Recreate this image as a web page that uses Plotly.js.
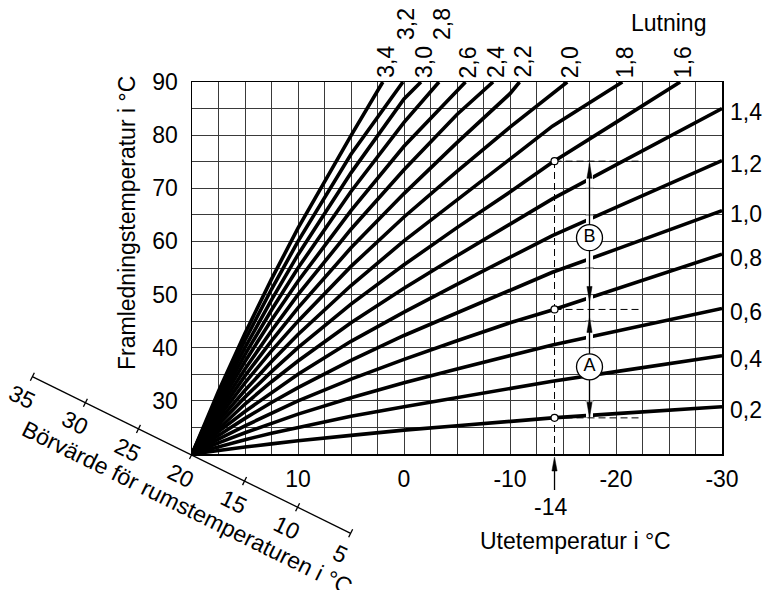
<!DOCTYPE html>
<html><head><meta charset="utf-8">
<script src="https://cdn.plot.ly/plotly-3.0.1.min.js"></script>
<style>html,body{margin:0;padding:0;background:#fff;}#chart{width:764px;height:590px;}</style>
</head><body><div id="chart"></div>
<script>
// ---------- data ----------
const outdoorTemp = [20, 17.5, 15, 12.5, 10, 5, 0, -5, -10, -14, -20, -25, -30];
const slopeLabels = ['0,2','0,4','0,6','0,8','1,0','1,2','1,4','1,6','1,8','2,0','2,2','2,4','2,6','2,8','3,0','3,2','3,4'];
const flow02 = [20, 20.7, 21.3, 21.9, 22.5, 23.5, 24.5, 25.3, 26.2, 26.8, 27.6, 28.2, 28.9];
const flow04 = [20, 21.4, 22.7, 23.9, 25.0, 27.1, 28.9, 30.6, 32.3, 33.7, 35.5, 37.0, 38.5];
const flow06 = [20, 22.1, 24.0, 25.8, 27.5, 30.6, 33.4, 36.0, 38.5, 40.5, 43.1, 45.3, 47.4];
const flow08 = [20, 22.8, 25.3, 27.7, 30.0, 34.1, 37.8, 41.3, 44.7, 47.1, 51.0, 54.3, 57.6];
const flow10 = [20, 23.5, 26.7, 29.7, 32.5, 37.6, 42.3, 46.6, 50.8, 54.2, 58.5, 62.2, 65.8];
const flow12 = [20, 24.2, 28.0, 31.6, 35.0, 41.2, 46.7, 51.9, 57.0, 61.1, 66.4, 70.8, 75.2];
const flow14 = [20, 24.8, 29.4, 33.6, 37.5, 44.7, 51.2, 57.3, 63.2, 68.0, 74.4, 79.7, 85.0];
const flow16 = [20, 25.5, 30.7, 35.5, 40.0, 48.2, 55.6, 62.6, 69.3, 74.9, 82.4, 88.7];
const flow18 = [20, 26.2, 32.0, 37.4, 42.5, 51.7, 60.1, 67.9, 75.5, 81.7, 89.4];
const flow20 = [20, 26.9, 33.4, 39.4, 45.0, 55.3, 64.6, 73.2, 81.5, 87.8];
const flow22 = [20, 27.6, 34.7, 41.3, 47.5, 58.8, 69.0, 78.6, 87.8];
const flow24 = [20, 28.3, 36.0, 43.2, 50.0, 62.3, 73.5, 83.9];
const flow26 = [20, 29.0, 37.4, 45.2, 52.5, 65.8, 77.9, 88.4];
const flow28 = [20, 29.7, 38.7, 47.1, 55.0, 69.4, 82.4];
const flow30 = [20, 30.4, 40.0, 49.0, 57.5, 72.9, 86.8];
const flow32 = [20, 31.1, 41.4, 51.0, 60.0, 76.4];
const flow34 = [20, 31.8, 42.7, 52.9, 62.5, 79.9];
// outdoor temperature where a curve leaves the top (90 °C) of the chart
const topExitTemp = [null, null, null, null, null, null, null, -26.05, -20.6, -15.4, -10.9, -8.4, -5.8, -3.3, -1.6, 0.1, 2.0];
const raisedLabels = ['3,2', '2,8'];

const xTickVals = [10, 0, -10, -20, -30];
const xTickText = ['10', '0', '-10', '-20', '-30'];
const yTickVals = [30, 40, 50, 60, 70, 80, 90];
const yTickText = ['30', '40', '50', '60', '70', '80', '90'];

// worked example at -14 °C
const exampleOutdoor = -14.2;
const exampleLabel = '-14';
const exampleFlow = [26.8, 47.2, 75.1];
const exampleDashEnd = -22.5;
const rangeArrowX = -17.5;
const arrowUpTips = [74.7, 45.7];
const arrowDownTips = [48.7, 26.9];
const rangeLabels = ['A', 'B'];
const rangeLabelFlow = [36.4, 60.7];

// room set-point scale (diagonal)
const roomTemps = [35, 30, 25, 20, 15, 10, 5];

// ---------- layout helpers ----------
const W = 764, H = 590, ML = 192, MR = 42, MT = 82, MB = 136;
const PW = W - ML - MR, PH = H - MT - MB;
const pX = v => (v - ML) / PW;
const pY = v => (H - MB - v) / PH;
const FONT = 'Liberation Sans, Arial, Helvetica, sans-serif';
const FS = 23;

const flows = [flow02, flow04, flow06, flow08, flow10, flow12, flow14, flow16, flow18,
  flow20, flow22, flow24, flow26, flow28, flow30, flow32, flow34];

const traces = [];
const annotations = [];
const shapes = [];

flows.forEach((vals, i) => {
  const xs = outdoorTemp.slice(0, vals.length);
  const ys = vals.slice();
  if (topExitTemp[i] !== null) { xs.push(topExitTemp[i]); ys.push(90); }
  traces.push({x: xs, y: ys, mode: 'lines', line: {color: '#000', width: 3.6},
    hoverinfo: 'skip', showlegend: false});
  if (topExitTemp[i] === null) {
    annotations.push({x: -30, y: vals[vals.length - 1], xref: 'x', yref: 'y', text: slopeLabels[i],
      showarrow: false, xanchor: 'left', yanchor: 'middle', xshift: 6, yshift: -3.5,
      font: {family: FONT, size: FS, color: '#000'}});
  } else {
    const raised = raisedLabels.includes(slopeLabels[i]);
    annotations.push({x: topExitTemp[i], y: 90, xref: 'x', yref: 'y', text: slopeLabels[i],
      showarrow: false, textangle: -90, xanchor: 'center', yanchor: 'bottom', xshift: 3, yshift: raised ? 40 : 2,
      font: {family: FONT, size: FS, color: '#000'}});
  }
});

// white gap where the curves are interrupted by the range arrow
const bandLo = Math.min(...arrowDownTips), bandHi = Math.max(...arrowUpTips);
traces.push({x: [rangeArrowX, rangeArrowX], y: [bandLo, bandHi], mode: 'lines',
  line: {color: '#fff', width: 7}, hoverinfo: 'skip', showlegend: false});
// restore horizontal grid pieces under the white gap
const gx = [], gy = [];
for (let g = 25; g <= 90; g += 5) {
  if (g > bandLo && g < bandHi) { gx.push(rangeArrowX + 0.4, rangeArrowX - 0.4, null); gy.push(g, g, null); }
}
traces.push({x: gx, y: gy, mode: 'lines', line: {color: '#3a3a3a', width: 1}, hoverinfo: 'skip', showlegend: false});
// arrow shaft
traces.push({x: [rangeArrowX, rangeArrowX], y: [bandLo, bandHi], mode: 'lines',
  line: {color: '#000', width: 1.3}, hoverinfo: 'skip', showlegend: false});
// arrow heads (narrow triangles)
const hw = 2.6 / PW * 50, hl = 15 / PH * 70;
arrowUpTips.forEach(t => traces.push({x: [rangeArrowX, rangeArrowX - hw, rangeArrowX + hw, rangeArrowX],
  y: [t, t - hl, t - hl, t], mode: 'lines', fill: 'toself', fillcolor: '#000', line: {color: '#000', width: 0.5},
  hoverinfo: 'skip', showlegend: false}));
arrowDownTips.forEach(t => traces.push({x: [rangeArrowX, rangeArrowX - hw, rangeArrowX + hw, rangeArrowX],
  y: [t, t + hl, t + hl, t], mode: 'lines', fill: 'toself', fillcolor: '#000', line: {color: '#000', width: 0.5},
  hoverinfo: 'skip', showlegend: false}));

// dashed helper lines of the example
const dx = [exampleOutdoor, exampleOutdoor, null], dy = [20, Math.max(...exampleFlow), null];
exampleFlow.forEach(f => { dx.push(exampleOutdoor, exampleDashEnd, null); dy.push(f, f, null); });
traces.push({x: dx, y: dy, mode: 'lines', line: {color: '#000', width: 1, dash: '7px,4px'},
  hoverinfo: 'skip', showlegend: false});
// small circles on the curves
traces.push({x: exampleFlow.map(() => exampleOutdoor), y: exampleFlow, mode: 'markers',
  marker: {size: 7, color: '#fff', line: {color: '#000', width: 1.2}}, hoverinfo: 'skip', showlegend: false});
// circled letters
traces.push({x: rangeLabels.map(() => rangeArrowX), y: rangeLabelFlow, mode: 'markers+text', text: rangeLabels,
  textposition: 'middle center', textfont: {family: FONT, size: 18, color: '#000'},
  marker: {size: 26, color: '#fff', line: {color: '#000', width: 1.3}}, hoverinfo: 'skip', showlegend: false});

// -14 marker below the x axis
const exPX = (20 - exampleOutdoor) / 50;
const ahw = 2.6 / PW;
shapes.push({type: 'line', xref: 'paper', yref: 'paper', x0: exPX, x1: exPX, y0: pY(468), y1: pY(490),
  line: {color: '#000', width: 1.3}});
shapes.push({type: 'path', xref: 'paper', yref: 'paper',
  path: `M ${exPX},${pY(457)} L ${exPX - ahw},${pY(471)} L ${exPX + ahw},${pY(471)} Z`,
  fillcolor: '#000', line: {color: '#000', width: 0.5}});
annotations.push({x: exPX, y: pY(506.5), xref: 'paper', yref: 'paper', text: exampleLabel, showarrow: false,
  xanchor: 'center', yanchor: 'middle', xshift: -4, font: {family: FONT, size: FS, color: '#000'}});

// diagonal room set-point scale
const diagO = [191.5, 455], diagStep = [53.05, 26.1];
const dLen = Math.hypot(diagStep[0], diagStep[1]);
const ux = diagStep[0] / dLen, uy = diagStep[1] / dLen;
const posOf = v => [diagO[0] + (20 - v) / 5 * diagStep[0], diagO[1] + (20 - v) / 5 * diagStep[1]];
const pa = posOf(roomTemps[0]), pb = posOf(roomTemps[roomTemps.length - 1]);
shapes.push({type: 'line', xref: 'paper', yref: 'paper', x0: pX(pa[0]), y0: pY(pa[1]), x1: pX(pb[0]), y1: pY(pb[1]),
  line: {color: '#000', width: 1.3}});
roomTemps.forEach(v => {
  const p = posOf(v);
  shapes.push({type: 'line', xref: 'paper', yref: 'paper',
    x0: pX(p[0] - 4.5 * uy), y0: pY(p[1] + 4.5 * ux), x1: pX(p[0] + 4.5 * uy), y1: pY(p[1] - 4.5 * ux),
    line: {color: '#000', width: 1.3}});
  annotations.push({x: pX(p[0] - 23 * uy), y: pY(p[1] + 23 * ux), xref: 'paper', yref: 'paper', text: String(v),
    showarrow: false, textangle: 26.2, xanchor: 'center', yanchor: 'middle',
    font: {family: FONT, size: FS, color: '#000'}});
});
const tc = posOf(20);
annotations.push({x: pX(tc[0] + 20 * ux - 49 * uy), y: pY(tc[1] + 20 * uy + 49 * ux), xref: 'paper', yref: 'paper',
  text: 'Börvärde för rumstemperaturen i °C', showarrow: false, textangle: 26.2, xanchor: 'center', yanchor: 'middle',
  font: {family: FONT, size: FS, color: '#000'}});

// titles
annotations.push({x: pX(127), y: pY(223), xref: 'paper', yref: 'paper', text: 'Framledningstemperatur i °C',
  showarrow: false, textangle: -90, xanchor: 'center', yanchor: 'middle', font: {family: FONT, size: FS, color: '#000'}});
annotations.push({x: pX(575), y: pY(541), xref: 'paper', yref: 'paper', text: 'Utetemperatur i °C',
  showarrow: false, xanchor: 'center', yanchor: 'middle', font: {family: FONT, size: FS, color: '#000'}});
annotations.push({x: pX(668), y: pY(23), xref: 'paper', yref: 'paper', text: 'Lutning',
  showarrow: false, xanchor: 'center', yanchor: 'middle', font: {family: FONT, size: FS, color: '#000'}});

const layout = {
  width: W, height: H,
  margin: {l: ML, r: MR, t: MT, b: MB, pad: 0},
  paper_bgcolor: '#fff', plot_bgcolor: '#fff',
  showlegend: false, hovermode: false,
  font: {family: FONT, size: FS, color: '#000'},
  xaxis: {range: [20, -30], autorange: false, tickmode: 'array', tickvals: xTickVals, ticktext: xTickText,
    ticks: 'outside', ticklen: 4, tickcolor: 'rgba(0,0,0,0)',
    showgrid: true, gridcolor: '#3a3a3a', gridwidth: 1,
    minor: {tickmode: 'linear', tick0: 0, dtick: 2.5, showgrid: true, gridcolor: '#3a3a3a', gridwidth: 1, ticks: ''},
    showline: true, mirror: true, linecolor: '#000', linewidth: 1.5, zeroline: false,
    tickfont: {family: FONT, size: FS, color: '#000'}},
  yaxis: {range: [20, 90], autorange: false, tickmode: 'array', tickvals: yTickVals, ticktext: yTickText,
    ticks: 'outside', ticklen: 8, tickcolor: 'rgba(0,0,0,0)',
    showgrid: true, gridcolor: '#3a3a3a', gridwidth: 1,
    minor: {tickmode: 'linear', tick0: 0, dtick: 5, showgrid: true, gridcolor: '#3a3a3a', gridwidth: 1, ticks: ''},
    showline: true, mirror: true, linecolor: '#000', linewidth: 1.5, zeroline: false,
    tickfont: {family: FONT, size: FS, color: '#000'}},
  annotations: annotations,
  shapes: shapes
};

Plotly.newPlot('chart', traces, layout, {staticPlot: true, displayModeBar: false});
</script>
</body></html>
